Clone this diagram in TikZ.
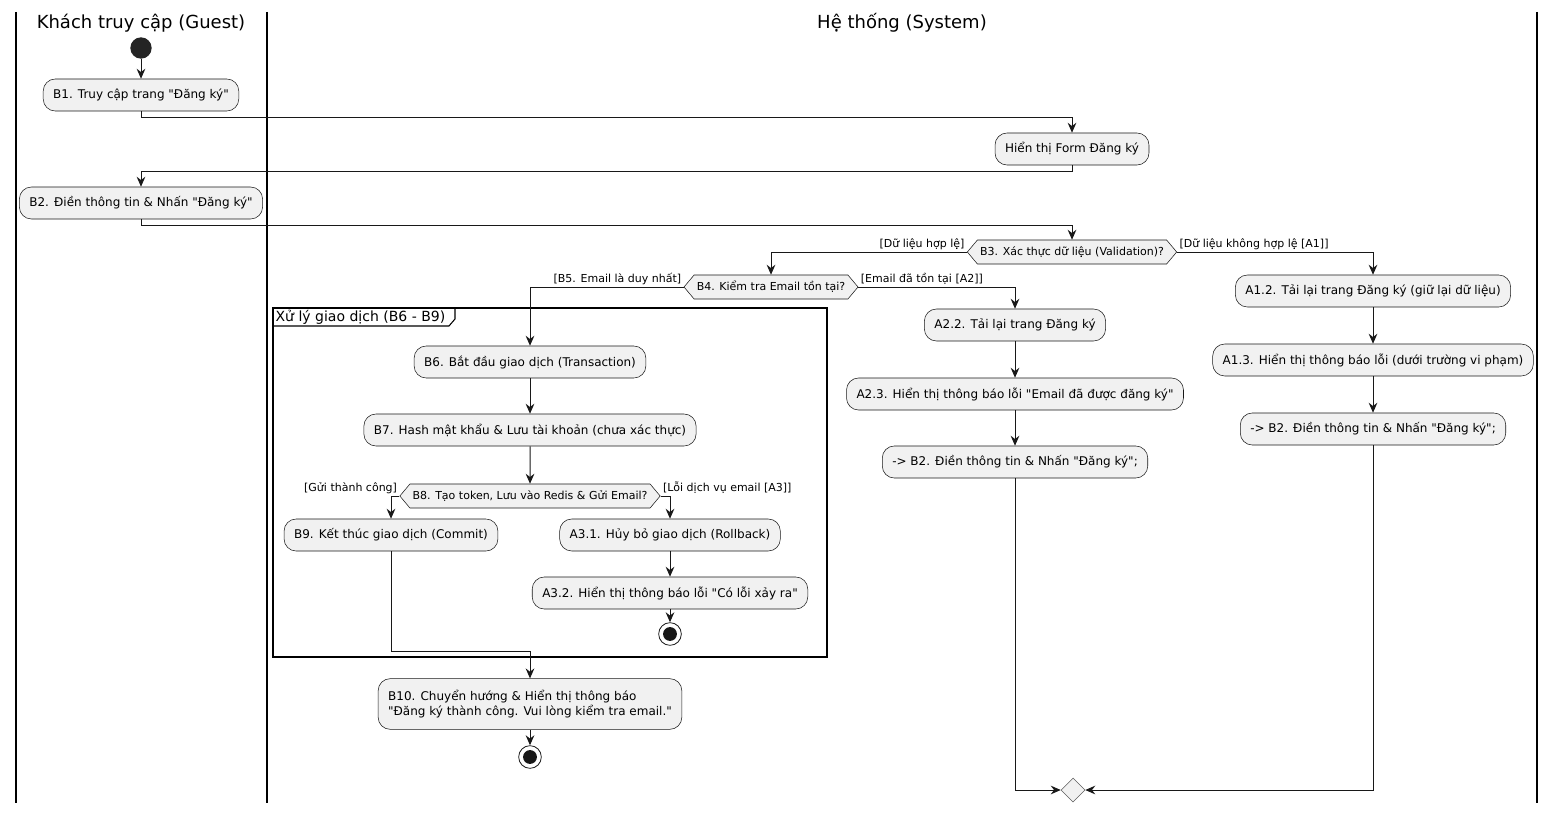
\documentclass[tikz,border=0pt]{standalone}
\usepackage{fontspec}
\setmainfont{DejaVu Sans}[Ligatures=TeXOff]
\usetikzlibrary{arrows.meta,shapes.geometric,shapes.symbols}
\definecolor{actfill}{HTML}{F1F1F1}
\definecolor{ink}{HTML}{181818}
\tikzset{
  >={Stealth[length=7.5pt,width=6.5pt,inset=2.5pt]},
  act/.style={draw=ink,fill=actfill,rounded corners=9pt,minimum height=24pt,inner xsep=7.5pt,line width=0.4pt,font=\fontsize{9}{11.5}\selectfont},
  cond/.style={signal,signal to=west and east,signal pointer angle=100,draw=ink,fill=actfill,line width=0.4pt,minimum height=18pt,inner xsep=2pt,inner ysep=1pt,font=\fontsize{8.25}{10}\selectfont},
  arrow/.style={->,draw=ink,line width=0.75pt},
  lbl/.style={font=\fontsize{8.25}{10}\selectfont,inner sep=1.5pt},
  lane/.style={line width=1.1pt},
  startnode/.style={circle,fill=ink!95,minimum size=16pt,inner sep=0pt},
  stopnode/.style={circle,draw=ink,fill=white,line width=0.6pt,minimum size=17pt,inner sep=0pt,
    path picture={\fill[ink] (path picture bounding box.center) circle (5.2pt);}},
}
\begin{document}
\begin{tikzpicture}[x=0.75pt,y=-0.75pt]
  \useasboundingbox (0,0) rectangle (1555,813);
  % swimlanes
  \draw[lane] (16,12) -- (16,803);
  \draw[lane] (267,12) -- (267,803);
  \draw[lane] (1537,12) -- (1537,803);
  \node[font=\fontsize{13.5}{16}\selectfont] (laneguest) at (141,23) {Khách truy cập (Guest)};
  \node[font=\fontsize{13.5}{16}\selectfont] (lanesys) at (902,23) {Hệ thống (System)};

  % group frame
  \draw[line width=1.1pt] (273,308) rectangle (827,657);
  \draw[line width=0.8pt] (273,326) -- (449,326) -- (455,319) -- (455,308);
  \node[anchor=west,inner sep=1pt,font=\fontsize{10.5}{12}\selectfont] (grouptitle) at (274,317) {Xử lý giao dịch (B6 - B9)};

  % guest
  \node[startnode] (start) at (141,48) {};
  \node[act] (b1) at (141,95) {B1. Truy cập trang "Đăng ký"};
  \node[act] (b2) at (141,203) {B2. Điền thông tin \& Nhấn "Đăng ký"};

  % system
  \node[act] (form) at (1072,149) {Hiển thị Form Đăng ký};
  \node[cond] (b3) at (1072,252) {B3. Xác thực dữ liệu (Validation)?};
  \node[cond] (b4) at (771,287) {B4. Kiểm tra Email tồn tại?};
  \node[act] (b6) at (530,362) {B6. Bắt đầu giao dịch (Transaction)};
  \node[act] (b7) at (530,430) {B7. Hash mật khẩu \& Lưu tài khoản (chưa xác thực)};
  \node[cond] (b8) at (530,496) {B8. Tạo token, Lưu vào Redis \& Gửi Email?};
  \node[act] (b9) at (391,535) {B9. Kết thúc giao dịch (Commit)};
  \node[act] (a31) at (670,535) {A3.1. Hủy bỏ giao dịch (Rollback)};
  \node[act] (a32) at (670,593) {A3.2. Hiển thị thông báo lỗi "Có lỗi xảy ra"};
  \node[stopnode] (stopA) at (670,634) {};
  \node[act,align=left,minimum height=38pt] (b10) at (530,704) {B10. Chuyển hướng \& Hiển thị thông báo\\"Đăng ký thành công. Vui lòng kiểm tra email."};
  \node[stopnode] (stopB) at (530,757) {};
  \node[act] (a22) at (1015,325) {A2.2. Tải lại trang Đăng ký};
  \node[act] (a23) at (1015,394) {A2.3. Hiển thị thông báo lỗi "Email đã được đăng ký"};
  \node[act] (a24) at (1015,462) {-> B2. Điền thông tin \& Nhấn "Đăng ký";};
  \node[act] (a12) at (1373,291) {A1.2. Tải lại trang Đăng ký (giữ lại dữ liệu)};
  \node[act] (a13) at (1373,360) {A1.3. Hiển thị thông báo lỗi (dưới trường vi phạm)};
  \node[act] (a14) at (1373,429) {-> B2. Điền thông tin \& Nhấn "Đăng ký";};
  \node[diamond,draw=ink!70,fill=actfill,line width=0.4pt,minimum size=18pt,inner sep=0pt] (merge) at (1073,790) {};

  % flows
  \draw[arrow] (start) -- (b1);
  \draw[arrow] (b1.south) -- ++(0,6) -| (form.north);
  \draw[arrow] (form.south) -- ++(0,6) -| (b2.north);
  \draw[arrow] (b2.south) -- ++(0,6) -| (b3.north);
  \draw[arrow] (b3.west) node[lbl,above left] {[Dữ liệu hợp lệ]} -| (b4.north);
  \draw[arrow] (b3.east) node[lbl,above right] {[Dữ liệu không hợp lệ [A1]]} -| (a12.north);
  \draw[arrow] (b4.west) node[lbl,above left] {[B5. Email là duy nhất]} -| (b6.north);
  \draw[arrow] (b4.east) node[lbl,above right] {[Email đã tồn tại [A2]]} -| (a22.north);
  \draw[arrow] (b6) -- (b7);
  \draw[arrow] (b7) -- (b8);
  \draw[arrow] (b8.west) node[lbl,above left] {[Gửi thành công]} -| (b9.north);
  \draw[arrow] (b8.east) node[lbl,above right] {[Lỗi dịch vụ email [A3]]} -| (a31.north);
  \draw[arrow] (a31) -- (a32);
  \draw[arrow] (a32) -- (stopA);
  \draw[arrow] (b9.south) -- ++(0,100) -| (b10.north);
  \draw[arrow] (b10) -- (stopB);
  \draw[arrow] (a22) -- (a23);
  \draw[arrow] (a23) -- (a24);
  \draw[arrow] (a24.south) |- (merge.west);
  \draw[arrow] (a12) -- (a13);
  \draw[arrow] (a13) -- (a14);
  \draw[arrow] (a14.south) |- (merge.east);
\end{tikzpicture}
\end{document}
